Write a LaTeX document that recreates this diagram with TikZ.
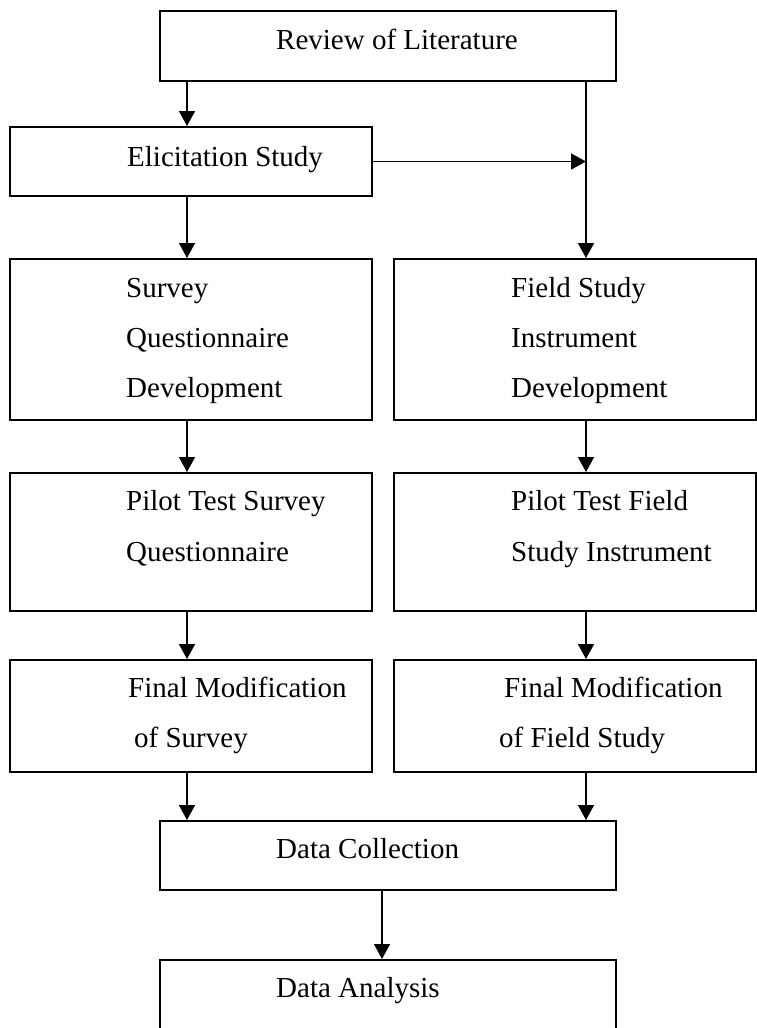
\documentclass[tikz,border=0pt]{standalone}
\usepackage{fontspec}
\setmainfont{Liberation Serif}
\usetikzlibrary{arrows.meta,fit}
\begin{document}
\begin{tikzpicture}[x=1pt,y=-1pt,
  box/.style={draw=black,line width=2pt,inner sep=0pt,fill=white},
  lbl/.style={anchor=base west,inner sep=0pt,font=\fontsize{29}{35}\selectfont},
  arr/.style={line width=1.6pt,-{Triangle[length=15pt,width=16pt]}}]
\useasboundingbox (0,0) rectangle (757,1028);
\fill[white] (0,0) rectangle (757,1028);

% boxes
\node[box,fit={(160,11) (616,81)}]   (review) {};
\node[box,fit={(10,127) (372,196)}]  (elicit) {};
\node[box,fit={(10,259) (372,420)}]  (survey) {};
\node[box,fit={(394,259) (756,420)}] (field) {};
\node[box,fit={(10,473) (372,611)}]  (pilots) {};
\node[box,fit={(394,473) (756,611)}] (pilotf) {};
\node[box,fit={(10,660) (372,772)}]  (finals) {};
\node[box,fit={(394,660) (756,772)}] (finalf) {};
\node[box,fit={(160,821) (616,890)}] (collect) {};
\node[box,fit={(160,960) (616,1031)}] (analysis) {};

% box texts
\node[lbl] (t-review) at (276,49)  {Review of Literature};
\node[lbl] (t-elicit) at (127,166) {Elicitation Study};
\node[lbl] (t-s1) at (126,297) {Survey};
\node[lbl] (t-s2) at (126,347) {Questionnaire};
\node[lbl] (t-s3) at (126,397) {Development};
\node[lbl] (t-f1) at (511,297) {Field Study};
\node[lbl] (t-f2) at (511,347) {Instrument};
\node[lbl] (t-f3) at (511,397) {Development};
\node[lbl] (t-ps1) at (126,510) {Pilot Test Survey};
\node[lbl] (t-ps2) at (126,561) {Questionnaire};
\node[lbl] (t-pf1) at (511,510) {Pilot Test Field};
\node[lbl] (t-pf2) at (511,561) {Study Instrument};
\node[lbl] (t-ms1) at (128,697) {Final Modification};
\node[lbl] (t-ms2) at (134,747) {of Survey};
\node[lbl] (t-mf1) at (504,697) {Final Modification};
\node[lbl] (t-mf2) at (499,747) {of Field Study};
\node[lbl] (t-collect) at (276,858) {Data Collection};
\node[lbl] (t-analysis) at (276,997) {Data Analysis};

% connector columns
\coordinate (lx) at (187,0);
\coordinate (rx) at (586,0);
\coordinate (cx) at (382,0);

\draw[arr] (review.south -| lx) -- (elicit.north -| lx);
\draw[arr] (review.south -| rx) -- (field.north -| rx);
\draw[arr] (elicit.east) -- (elicit.east -| rx);
\draw[arr] (elicit.south -| lx) -- (survey.north -| lx);
\draw[arr] (survey.south -| lx) -- (pilots.north -| lx);
\draw[arr] (field.south -| rx) -- (pilotf.north -| rx);
\draw[arr] (pilots.south -| lx) -- (finals.north -| lx);
\draw[arr] (pilotf.south -| rx) -- (finalf.north -| rx);
\draw[arr] (finals.south -| lx) -- (collect.north -| lx);
\draw[arr] (finalf.south -| rx) -- (collect.north -| rx);
\draw[arr] (collect.south -| cx) -- (analysis.north -| cx);
\end{tikzpicture}
\end{document}
